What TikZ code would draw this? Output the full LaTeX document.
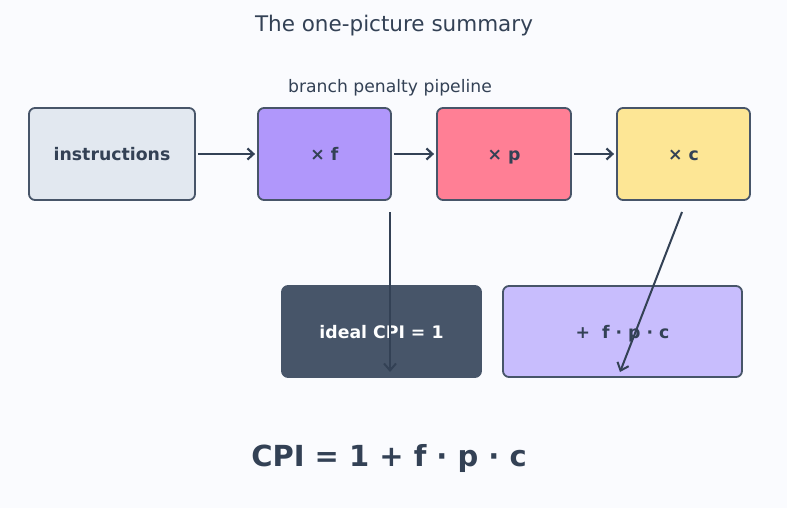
\documentclass[tikz,border=0pt]{standalone}
\usepackage{fontspec}
\setmainfont{DejaVu Sans}
\usetikzlibrary{arrows.meta}
\definecolor{bg}{HTML}{FAFBFE}
\definecolor{ink}{HTML}{334155}
\definecolor{edge}{HTML}{475569}
\definecolor{cin}{HTML}{E2E8F0}
\definecolor{cf}{HTML}{B097FB}
\definecolor{cp}{HTML}{FF7F95}
\definecolor{cc}{HTML}{FDE695}
\definecolor{cid}{HTML}{475569}
\definecolor{csum}{HTML}{C8BDFD}
\tikzset{
  box/.style={draw=edge, line width=1.8pt, rounded corners=6pt, inner sep=0pt,
    text height=16pt, text depth=3pt,
    font=\fontsize{17.3}{20}\selectfont\bfseries, text=ink},
  conn/.style={draw=ink, line width=2.2pt, shorten <=2pt, shorten >=2pt, -{Straight Barb[length=6pt,width=11pt]}},
  thin/.style={draw=ink, line width=2pt, -{Straight Barb[length=7pt,width=12pt]}}
}
\begin{document}
\begin{tikzpicture}[x=1pt,y=-1pt]
\fill[bg] (0,0) rectangle (787,508);
\useasboundingbox (0,0) rectangle (787,508);
\node[text=ink, font=\fontsize{21.5}{25}\selectfont] (title) at (394,25.5) {The one-picture summary};
\node[text=ink, font=\fontsize{17.2}{20}\selectfont] (sub) at (390,87.5) {branch penalty pipeline};
\node[box, fill=cin, minimum width=166pt, minimum height=92pt] (ins) at (112,154) {instructions};
\node[box, fill=cf, minimum width=133pt, minimum height=92pt] (f) at (324.5,154) {× f};
\node[box, fill=cp, minimum width=134pt, minimum height=92pt] (p) at (504,154) {× p};
\node[box, fill=cc, minimum width=133pt, minimum height=92pt] (c) at (683.5,154) {× c};
\node[box, fill=cid, text=white, minimum width=199pt, minimum height=91pt] (id) at (381.5,331.5) {ideal CPI = 1};
\node[box, fill=csum, minimum width=239pt, minimum height=91pt] (sum) at (622.5,331.5) {+~ f · p · c};
\draw[conn] (ins) -- (f);
\draw[conn] (f) -- (p);
\draw[conn] (p) -- (c);
\coordinate (a1s) at (390,212);
\coordinate (a1e) at (390,372);
\coordinate (a2s) at (682,212);
\coordinate (a2e) at (620,372);
\draw[thin] (a1s) -- (a1e);
\draw[thin] (a2s) -- (a2e);
\node[text=ink, font=\fontsize{29}{34}\selectfont\bfseries] (cpi) at (389,458) {CPI = 1 + f · p · c};
\end{tikzpicture}
\end{document}
